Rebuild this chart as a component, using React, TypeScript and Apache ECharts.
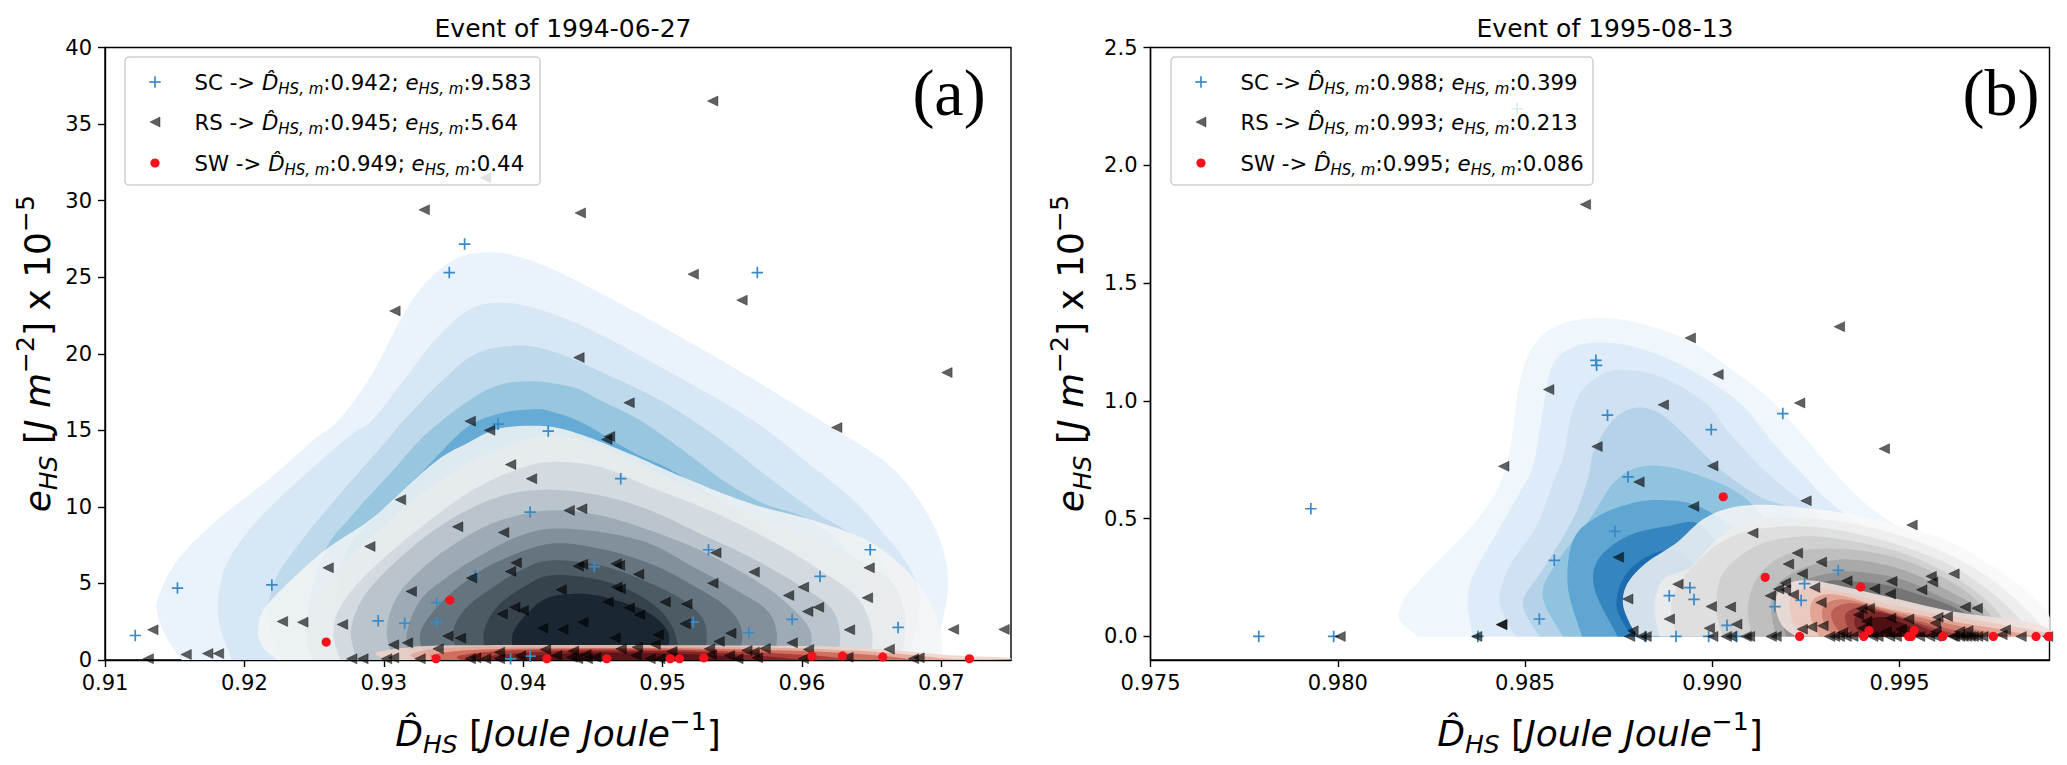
import React, { useEffect, useRef } from "react";
import * as echarts from "echarts";

type P = number[];

const titleA = "Event of 1994-06-27";
const titleB = "Event of 1995-08-13";
const ticksXA = [0.91, 0.92, 0.93, 0.94, 0.95, 0.96, 0.97];
const ticksXB = [0.975, 0.98, 0.985, 0.99, 0.995];
const ticksYA = [0, 5, 10, 15, 20, 25, 30, 35, 40];
const ticksYB = [0, 0.5, 1, 1.5, 2, 2.5];

const scA: P[] = [[.91217,1.6],[.9152,4.7],[.92197,4.9],[.9296,2.56],[.9315,2.4],[.9338,2.45],[.9338,3.74],[.93656,5.5],[.9405,9.66],[.9382,15.4],[.9418,14.95],[.9391,.08],[.9405,.25],[.947,11.84],[.9533,7.2],[.9451,6.1],[.9613,5.46],[.9649,7.2],[.9593,2.65],[.9669,2.13],[.9522,2.47],[.9562,1.78],[.9358,27.16],[.9347,25.3],[.9568,25.3]];

const rsA: P[] = [[.9536,36.5],[.9373,31.5],[.9329,29.4],[.9441,29.2],[.9522,25.2],[.9557,23.5],[.9308,22.8],[.944,19.75],[.9476,16.8],[.9704,18.77],[.9625,15.18],[.9362,15.6],[.9376,15],[.9462,14.6],[.946,14.4],[.9312,10.47],[.9391,12.76],[.9406,11.84],[.9433,9.77],[.9442,9.88],[.9353,8.7],[.9386,8.33],
[.91343,1.97],[.9131,.08],[.91582,.36],[.91737,.42],[.91814,.42],[.92273,2.52],[.92419,2.47],[.92601,6.02],[.92704,2.32],[.929,7.42],[.93197,4.48],[.9395,6.35],[.9391,5.78],[.9363,5.35],[.9385,3],[.9394,3.45],[.94,3.24],[.9414,2.08],[.9346,1.56],[.9355,1.43],[.9307,1],[.9317,1.12],[.9339,.73],[.9383,.51],[.9416,.69],[.9398,.27],
[.9277,.08],[.9285,.08],[.9302,.08],[.9307,.14],[.9326,.08],[.9362,.08],[.9366,.14],[.9373,.08],[.9383,.08],
[.95382,7],[.95657,5.74],[.96482,6.02],[.96011,4.76],[.95904,4.22],[.9647,4.06],[.96042,3.17],[.96119,3.45],[.95361,5.02],[.94395,6.13],[.94426,6.25],[.94667,6.29],[.94691,6.18],[.94828,5.6],[.94273,4.59],[.94672,4.76],[.94696,4.65],[.9461,3.8],[.94761,3.41],[.94835,2.95],[.95019,3.78],[.95174,3.65],[.95162,2.36],[.94428,2.47],[.94285,2],[.9466,1.45],[.94969,1.65],[.94947,1.02],[.95406,1.21],[.9549,1.75],[.9593,1.12],[.96341,1.97],[.97087,2],[.9745,2],
[.96626,.71],[.96047,.69],[.95736,.75],[.95605,.62],[.95657,.51],[.95337,.73],[.95067,.56],[.9482,.84],[.94703,.73],[.94361,.58],[.9481,.3],[.9548,.3],[.9535,.36],[.9424,.3],[.9445,.36],[.9435,.18],[.9452,.18],[.9491,.08],[.9498,.08],[.9554,.08],[.9568,.14],[.9601,.08],[.9633,.18],[.968,.08],[.9684,.14],[.9439,.08],[.9446,.08]];

const swA: P[] = [[.92587,1.17],[.93474,3.91],[.93375,.08],[.9417,.08],[.946,.08],[.95055,.08],[.95122,.08],[.95296,.14],[.96073,.25],[.96291,.27],[.9658,.2],[.97202,.08]];

const scB: P[] = [[.97789,0],[.97989,0],[.97928,.542],[.98374,0],[.98538,.074],[.98578,.323],[.9874,.446],[.98689,1.172],[.98691,1.151],[.9872,.939],[.98775,.677],[.98997,.878],[.99188,.946],[.98479,2.24],[.98885,.173],[.9894,.207],[.98951,.157],[.98903,0],[.9899,0],[.99065,0],[.99039,.047],[.99167,.127],[.99237,.153],[.99246,.224],[.99336,.28],[.98821,0]];

const rsB: P[] = [[.98661,1.834],[.99339,1.315],[.98941,1.267],[.99015,1.112],[.98563,1.048],[.99233,.991],[.98869,.983],[.99459,.797],[.98692,.806],[.98443,.722],[.99001,.724],[.98804,.656],[.9925,.576],[.9895,.552],[.99533,.473],[.99108,.439],[.99227,.354],[.99203,.307],[.99291,.316],[.9924,.266],[.99359,.236],[.99479,.234],[.99195,.227],[.99273,.208],[.99177,.201],[.99195,.198],[.99155,.173],[.99216,.177],[.99433,.202],[.99475,.18],[.99559,.198],[.99584,.255],[.99588,.231],[.99645,.266],[.9929,.144],[.99675,.125],[.99707,.12],[.99399,.118],[.99419,.12],[.9939,.092],[.99412,.064],[.99476,.078],[.99524,.074],[.99602,.081],[.99627,.085],[.99595,.057],[.98908,.222],[.98774,.159],[.98997,.127],[.99048,.125],[.98885,.074],[.99065,.052],[.98992,.035],[.98788,.024],[.99295,.045],[.99265,.04],[.9924,.031],[.99348,.017],[.99402,.035],[.99464,.021],[.99504,.031],[.99782,.028],[.99682,.025],[.9966,.021],[.99597,.021],[.99824,0],[.99773,.007],
[.98779,0],[.9881,0],[.98823,0],[.99001,0],[.99037,0],[.9905,0],[.9909,0],[.99099,0],[.99157,0],[.9917,0],[.99313,0],[.99326,0],[.99339,0],[.99357,0],[.99375,0],[.99428,0],[.99442,0],[.99473,0],[.99491,0],[.99553,0],[.9958,0],[.99597,0],[.99642,0],[.9966,0],[.99678,0],[.99696,0],[.99722,0],[.99647,0],[.99669,0],[.99688,0],[.99708,0],[.98006,0],[.98371,0],[.98438,.051],[.98749,.336],[.98437,.05],[.99895,0]];

const swB: P[] = [[.99029,.593],[.99141,.251],[.99396,.21],[.99233,0],[.99404,0],[.99418,.025],[.99524,0],[.99539,.025],[.99531,0],[.99615,0],[.9975,0],[.99864,0],[.99897,0]];

const blueColorsA = ["#eaf3fb", "#d8e7f5", "#bed8ec", "#98c6df", "#66abd5"];
const blueA: P[][] = [
[[.9155,0],[.91453,1.27],[.91382,2.78],[.91382,4.08],[.91518,6.5],[.91776,8.92],[.92164,11.73],[.92494,14.35],[.92673,15.65],[.92902,18.46],[.93146,22.65],[.93318,24.8],[.93527,26.24],[.93756,26.63],[.93979,26.3],[.94258,25.33],[.94811,22.71],[.95507,19.12],[.96131,15.65],[.96583,13.04],[.96827,10.62],[.96991,7.81],[.97049,5.2],[.97013,2.78],[.96941,0]],
[[.91912,0],[.91826,2.12],[.91812,4.08],[.91884,6.5],[.92113,9.31],[.92493,12.58],[.9278,14.8],[.92917,15.65],[.93143,18.27],[.93387,21.1],[.93631,22.97],[.93867,23.32],[.94117,22.89],[.94465,21.65],[.94986,19.14],[.95647,15.65],[.96109,12.39],[.96396,10.23],[.96583,8.27],[.96726,6.7],[.96834,4.74],[.96834,2.78],[.96762,0]],
[[.92257,0],[.92171,2.58],[.92171,3.69],[.92243,5.65],[.92451,8.27],[.92709,11.08],[.93024,14.35],[.93143,15.65],[.93422,18.27],[.93665,20.01],[.93961,20.54],[.94222,20.12],[.94534,18.92],[.94983,16.96],[.95392,14.54],[.95722,12.19],[.9608,9.77],[.96346,8.27],[.96547,6.7],[.96654,4.74],[.96683,2.78],[.96611,0]],
[[.92544,0],[.92458,3.24],[.9258,7.16],[.92759,9.31],[.93067,12.39],[.93333,15],[.93734,17.61],[.94029,18.2],[.94358,17.81],[.94552,16.96],[.94839,15.65],[.95148,13.69],[.95435,11.73],[.95722,10.23],[.96059,9.12],[.96346,6.83],[.96475,3.24],[.96418,0]],
[[.92759,0],[.92687,3.24],[.92723,6.83],[.92923,9.25],[.93118,10.75],[.93354,13.04],[.93598,15.2],[.93835,16.11],[.94072,16.37],[.94194,16.24],[.94431,15.46],[.94789,13.56],[.95126,12.06],[.957,8.46],[.95987,4.54],[.95916,0]],
];

const greyColorsA = ["#f4f5f5", "#e7ebed", "#cfd8dd", "#b4c0c9", "#98a6b1", "#7c8a95", "#616f7a", "#48565f", "#323f49", "#15232e"];
const greyA: P[][] = [
[[.92235,0],[.92135,.82],[.92099,1.93],[.92171,3.69],[.92558,7.03],[.92923,9.31],[.93354,12.84],[.93598,14.15],[.93835,15.13],[.94172,15.26],[.94431,14.67],[.94789,13.37],[.95148,11.93],[.95628,10.23],[.9608,9.12],[.96467,7.81],[.96726,6.05],[.96898,4.08],[.96991,2.12],[.97006,0]],
[[.92496,0],[.92443,1.27],[.9246,3.02],[.92591,5.2],[.92879,7.81],[.93237,10.64],[.93596,12.82],[.93907,14.02],[.94194,14.67],[.94553,14.02],[.94911,12.49],[.9539,10.53],[.95868,8.79],[.96227,7.3],[.96609,5.4],[.96729,3.45],[.96741,1.71],[.96705,0]],
[[.92687,0],[.92639,1.71],[.92687,3.45],[.92879,5.63],[.93237,8.46],[.93596,10.86],[.93907,12.28],[.94194,12.93],[.94553,12.6],[.94911,11.3],[.9539,9.56],[.9582,7.59],[.96131,5.85],[.96394,4.11],[.96502,1.93],[.9649,0]],
[[.92807,0],[.92764,1.93],[.92855,4.11],[.9307,6.29],[.93357,8.46],[.93644,9.99],[.93907,10.86],[.94194,11.12],[.94553,10.75],[.94911,9.77],[.9527,8.25],[.95629,6.72],[.95964,4.98],[.96203,3.45],[.96274,1.71],[.9625,0]],
[[.93069,0],[.93022,1.93],[.93094,4.11],[.93286,6.07],[.93549,7.81],[.93835,9.12],[.94194,9.77],[.94553,9.44],[.94911,8.46],[.9527,7.16],[.95629,5.41],[.95868,3.89],[.96059,1.93],[.96047,0]],
[[.93189,0],[.93165,1.71],[.93261,3.89],[.93453,5.41],[.93716,6.94],[.93955,8.03],[.94194,8.57],[.94553,8.36],[.94911,7.59],[.95222,6.07],[.95533,4.54],[.95749,3.24],[.9582,1.71],[.95796,0]],
[[.93297,0],[.93261,1.71],[.93381,3.45],[.93596,5.2],[.93835,6.5],[.94194,7.59],[.94553,7.27],[.94911,6.29],[.95198,4.98],[.95461,3.45],[.95569,1.93],[.95545,0]],
[[.93536,0],[.935,1.93],[.93596,3.45],[.93787,4.76],[.93979,5.85],[.94194,6.5],[.94553,6.18],[.94864,5.2],[.95151,3.89],[.95306,2.36],[.95306,0]],
[[.93751,0],[.93715,1.71],[.93811,3.45],[.94003,4.76],[.94194,5.52],[.94505,5.31],[.94792,4.43],[.95007,3.02],[.95103,1.27],[.95079,0]],
[[.93942,0],[.93925,1.71],[.9405,3.24],[.94194,4.11],[.94433,4.32],[.94672,3.89],[.94911,3.02],[.95043,1.71],[.95019,0]],
];

const redColorsA = ["#efd3c9", "#e3a595", "#cc6656", "#a93a33", "#7f2124", "#571419"];
const redA: P[][] = [
[[.9297,.2],[.9295,.5],[.9315,.8],[.9345,.95],[.945,.98],[.955,.95],[.961,.9],[.965,.75],[.97,.35],[.9735,0],[.9302,0]],
[[.9325,0],[.932,.4],[.9345,.8],[.94,.88],[.95,.88],[.958,.8],[.965,.55],[.97,.12],[.971,0]],
[[.934,0],[.9335,.35],[.937,.68],[.945,.78],[.953,.74],[.961,.55],[.966,.25],[.968,0]],
[[.9355,0],[.9355,.3],[.939,.62],[.946,.7],[.953,.62],[.96,.35],[.964,0]],
[[.9375,0],[.938,.3],[.942,.56],[.948,.6],[.953,.5],[.958,.2],[.96,0]],
[[.9395,0],[.94,.22],[.944,.45],[.949,.46],[.954,.28],[.956,0]],
];

const blueColorsB = ["#eff6fc", "#deebf8", "#cfe1f2", "#b4d3e9", "#90c3df", "#5fa6d3", "#3585bf", "#1c6cb0"];
const blueB: P[][] = [
[[.98214,0],[.9817,.057],[.98163,.099],[.98182,.17],[.98245,.283],[.98325,.411],[.98405,.566],[.9845,.722],[.9847,.906],[.98485,1.076],[.98521,1.232],[.98593,1.324],[.98705,1.352],[.98817,1.324],[.9894,1.253],[.99052,1.133],[.99155,1.005],[.99236,.864],[.99328,.694],[.9943,.538],[.9965,.3],[.9985,.05],[.9985,0]],
[[.9836,0],[.98347,.142],[.9836,.255],[.98414,.411],[.98485,.609],[.98521,.722],[.98545,.935],[.98572,1.147],[.98634,1.232],[.98725,1.246],[.98817,1.218],[.9894,1.133],[.99073,.991],[.99155,.835],[.99246,.68],[.99328,.552],[.9955,.3],[.9975,.05],[.9975,0]],
[[.98476,0],[.98432,.142],[.98458,.297],[.9853,.467],[.98578,.666],[.98603,.765],[.98623,.935],[.98654,1.048],[.98715,1.119],[.98777,1.13],[.98869,1.097],[.98981,.991],[.99052,.85],[.99155,.68],[.99257,.552],[.9945,.3],[.9965,.05],[.9965,0]],
[[.98538,0],[.98494,.142],[.98547,.283],[.98627,.496],[.98667,.666],[.98685,.793],[.98736,.92],[.98792,.97],[.98858,.949],[.9893,.85],[.99022,.708],[.99124,.595],[.99226,.524],[.9935,.3],[.9955,.05],[.9955,0]],
[[.98601,0],[.98547,.17],[.98583,.311],[.98672,.496],[.98736,.651],[.98797,.715],[.98869,.722],[.98971,.68],[.99093,.58],[.9925,.3],[.9945,.05],[.9945,0]],
[[.98652,0],[.98614,.212],[.98629,.411],[.98695,.51],[.98786,.566],[.98878,.578],[.98982,.538],[.9915,.35],[.993,.05],[.993,0]],
[[.98747,0],[.98686,.198],[.98695,.326],[.98773,.425],[.98877,.467],[.98969,.474],[.9905,.3],[.9915,.05],[.9915,0]],
[[.98785,0],[.98745,.12],[.9876,.24],[.98812,.326],[.98891,.368],[.9895,.3],[.9903,.05],[.9903,0]],
];

const greyColorsB = ["#f8f8f8", "#ececec", "#dddddd", "#cdcdcd", "#bbbbbb", "#a5a5a5", "#8e8e8e", "#707070"];
const greyB: P[][] = [
[[.98801,0],[.98779,.057],[.98761,.142],[.98774,.227],[.98823,.312],[.98903,.396],[.98974,.496],[.99046,.545],[.99135,.559],[.9925,.545],[.99375,.517],[.99508,.467],[.99642,.396],[.99775,.269],[.99864,.156],[.999,.085],[.999,0]],
[[.98859,0],[.98845,.127],[.98868,.241],[.98939,.29],[.98992,.382],[.99046,.453],[.99135,.503],[.9925,.503],[.99375,.479],[.99508,.425],[.99642,.34],[.99758,.227],[.99847,.099],[.99895,.014],[.99895,0]],
[[.98903,0],[.9889,.127],[.98912,.227],[.98957,.312],[.99019,.396],[.99108,.453],[.9925,.467],[.99375,.439],[.99508,.382],[.99642,.297],[.99758,.17],[.99829,.057],[.99855,0]],
[[.99028,0],[.9901,.127],[.99028,.269],[.99099,.368],[.9917,.411],[.99268,.425],[.99375,.404],[.99508,.354],[.99642,.255],[.9974,.142],[.99811,0]],
[[.99104,0],[.99095,.127],[.99117,.241],[.9917,.326],[.9925,.368],[.99375,.368],[.99508,.326],[.99642,.227],[.99722,.127],[.99784,0]],
[[.9917,0],[.99157,.113],[.9917,.212],[.99215,.269],[.99286,.312],[.99375,.326],[.99508,.283],[.99642,.184],[.99713,.113],[.99766,0]],
[[.99197,0],[.99179,.127],[.99215,.212],[.99277,.255],[.99375,.276],[.99508,.241],[.99597,.177],[.99695,.099],[.9974,0]],
[[.99224,0],[.99206,.113],[.99241,.184],[.99304,.234],[.99375,.234],[.99464,.219],[.99553,.177],[.99642,.127],[.99695,.071],[.99713,0]],
];

const redColorsB = ["#efe0dc", "#ecc8bc", "#e0a090", "#cf7d6e", "#b85a50", "#983d3a", "#742326", "#4a0e12"];
const redB: P[][] = [
[[.99224,0],[.99188,.042],[.9917,.113],[.99172,.177],[.99206,.227],[.99259,.238],[.9933,.219],[.99464,.17],[.99642,.106],[.9982,.068],[.99895,.035],[.99895,0]],
[[.9925,0],[.99219,.057],[.99206,.142],[.99224,.191],[.99277,.205],[.99357,.184],[.99482,.134],[.99642,.085],[.99775,.05],[.99895,.014],[.99895,0]],
[[.99286,0],[.99264,.071],[.99264,.142],[.99295,.177],[.99357,.17],[.99464,.12],[.99642,.064],[.99775,.028],[.99864,0]],
[[.99321,0],[.99295,.071],[.99297,.127],[.9933,.156],[.99384,.149],[.99482,.106],[.99642,.05],[.99731,.021],[.99802,0]],
[[.99348,0],[.99321,.064],[.99321,.113],[.99357,.139],[.99402,.134],[.99491,.092],[.99624,.035],[.99731,0]],
[[.99375,0],[.99357,.057],[.99357,.099],[.99393,.125],[.99437,.113],[.99508,.078],[.99606,.028],[.99677,0]],
[[.99402,0],[.99379,.05],[.99388,.092],[.99428,.106],[.99491,.085],[.9958,.028],[.99624,0]],
[[.99428,0],[.99411,.05],[.99428,.078],[.99473,.078],[.99535,.035],[.9958,0]],
];

const legendSC = ["0.942", "9.583"];
const legendRS = ["0.945", "5.64"];
const legendSW = ["0.949", "0.44"];
const legendSCb = ["0.988", "0.399"];
const legendRSb = ["0.993", "0.213"];
const legendSWb = ["0.995", "0.086"];

const FONT = "DejaVu Sans";
const PLUS = "path://M4.25,0H5.75V4.25H10V5.75H5.75V10H4.25V5.75H0V4.25H4.25Z";
const TRI = "path://M0,5L10,0L10,10Z";
const BLUE = "#3b8ac6";
const RED = "#f5121c";
const DARK = "rgba(0,0,0,0.62)";

function smoothOpen(pts: number[][], baseY: number): number[][] {
  const out: number[][] = [];
  const n = pts.length;
  for (let i = 0; i < n - 1; i++) {
    const p0 = pts[Math.max(0, i - 1)], p1 = pts[i], p2 = pts[i + 1], p3 = pts[Math.min(n - 1, i + 2)];
    for (let k = 0; k < 10; k++) {
      const t = k / 10, t2 = t * t, t3 = t2 * t;
      const f = (a: number, b: number, c: number, d: number) =>
        0.5 * (2 * b + (c - a) * t + (2 * a - 5 * b + 4 * c - d) * t2 + (3 * b - a - 3 * c + d) * t3);
      out.push([f(p0[0], p1[0], p2[0], p3[0]), Math.min(baseY, f(p0[1], p1[1], p2[1], p3[1]))]);
    }
  }
  out.push(pts[n - 1]);
  return out;
}

function contourSeries(levels: P[][], colors: string[], axis: number, opacity: number, z: number) {
  return {
    type: "custom",
    xAxisIndex: axis,
    yAxisIndex: axis,
    z,
    clip: true,
    silent: true,
    data: levels.map((_, i) => [levels[i][0][0], levels[i][0][1], i]),
    encode: { x: 0, y: 1 },
    renderItem: (params: any, api: any) => {
      const idx = params.dataIndex as number;
      const baseY = api.coord([levels[idx][0][0], 0])[1];
      const pts = levels[idx].map((p) => api.coord(p));
      return {
        type: "polygon",
        shape: { points: smoothOpen(pts, baseY) },
        style: { fill: colors[idx], opacity, stroke: "none" },
      };
    },
  };
}

function scatter(data: P[], symbol: string, size: number | number[], color: string, axis: number, z: number, border = 0) {
  return {
    type: "scatter",
    xAxisIndex: axis,
    yAxisIndex: axis,
    symbol,
    symbolSize: size,
    data,
    z,
    clip: true,
    silent: true,
    itemStyle: { color, opacity: 1, borderColor: border ? "rgba(0,0,0,0.45)" : undefined, borderWidth: border },
  };
}

const axisBase = {
  axisLine: { show: true, onZero: false, lineStyle: { color: "#000", width: 1.4 } },
  axisTick: { show: true, length: 7, lineStyle: { color: "#000", width: 1.4 } },
  splitLine: { show: false },
};

const nameRich = {
  i: { fontFamily: FONT, fontStyle: "italic", fontSize: 36, color: "#000" },
  n: { fontFamily: FONT, fontSize: 36, color: "#000" },
  s: { fontFamily: FONT, fontStyle: "italic", fontSize: 25, color: "#000", verticalAlign: "bottom", lineHeight: 48 },
  p: { fontFamily: FONT, fontSize: 25, color: "#000", verticalAlign: "top", lineHeight: 48 },
};

function xAxis(grid: number, min: number, max: number, ticks: number[], digits: number) {
  return {
    ...axisBase,
    type: "value",
    gridIndex: grid,
    min,
    max,
    axisTick: { ...axisBase.axisTick, customValues: ticks },
    axisLabel: {
      customValues: ticks,
      margin: 12,
      color: "#000",
      fontFamily: FONT,
      fontSize: 21,
      formatter: (v: number) => v.toFixed(digits),
    },
    name: "{i|D\u0302}{s|HS}{n|\u00a0[}{i|Joule Joule}{p|\u22121}{n|]}",
    nameLocation: "middle",
    nameGap: 49,
    nameTextStyle: { fontFamily: FONT, color: "#000", rich: nameRich },
  };
}

function yAxis(grid: number, min: number, max: number, ticks: number[], digits: number, gap: number) {
  return {
    ...axisBase,
    type: "value",
    gridIndex: grid,
    min,
    max,
    axisTick: { ...axisBase.axisTick, customValues: ticks },
    axisLabel: {
      customValues: ticks,
      margin: 13,
      color: "#000",
      fontFamily: FONT,
      fontSize: 21,
      formatter: (v: number) => v.toFixed(digits),
    },
    name: "{i|e}{s|HS}{n|\u00a0[}{i|J m}{p|\u22122}{n|] x 10}{p|\u22125}",
    nameLocation: "middle",
    nameGap: gap,
    nameTextStyle: { fontFamily: FONT, color: "#000", rich: nameRich },
  };
}

function legendText(label: string, v: string[], x: number, y: number) {
  return {
    type: "text",
    x,
    y,
    z: 102,
    style: {
      text: `{n|${label} -> }{i|D\u0302}{s|HS, m}{n|:${v[0]}; }{i|e}{s|HS, m}{n|:${v[1]}}`,
      fontFamily: FONT,
      fontSize: 21.3,
      fill: "#000",
      verticalAlign: "middle",
      rich: {
        n: { fontFamily: FONT, fontSize: 21.3, fill: "#000" },
        i: { fontFamily: FONT, fontSize: 21.3, fontStyle: "italic", fill: "#000" },
        s: { fontFamily: FONT, fontSize: 15, fontStyle: "italic", fill: "#000", verticalAlign: "bottom", lineHeight: 29 },
      },
    },
  };
}

function legend(x0: number, width: number, rows: string[][], labels: string[]) {
  const mx = x0 + 30;
  const tx = x0 + 69.5;
  const ys = [82, 122, 163];
  return [
    { type: "rect", x: x0, y: 57, z: 100, shape: { width, height: 128, r: 4 }, style: { fill: "rgba(255,255,255,0.82)", stroke: "#cfcfcf", lineWidth: 1.5 } },
    { type: "rect", x: mx - 5.75, y: ys[0] - 0.85, z: 101, shape: { width: 11.5, height: 1.7 }, style: { fill: BLUE } },
    { type: "rect", x: mx - 0.85, y: ys[0] - 5.75, z: 101, shape: { width: 1.7, height: 11.5 }, style: { fill: BLUE } },
    { type: "polygon", z: 101, shape: { points: [[mx - 5, ys[1]], [mx + 5, ys[1] - 5], [mx + 5, ys[1] + 5]] }, style: { fill: DARK, stroke: "rgba(0,0,0,0.45)", lineWidth: 0.8 } },
    { type: "circle", z: 101, shape: { cx: mx, cy: ys[2], r: 4.6 }, style: { fill: RED } },
    legendText(labels[0], rows[0], tx, ys[0]),
    legendText(labels[1], rows[1], tx, ys[1]),
    legendText(labels[2], rows[2], tx, ys[2]),
  ];
}

export default function App() {
  const ref = useRef<HTMLDivElement>(null);
  useEffect(() => {
    document.body.style.margin = "0";
    const chart = echarts.init(ref.current!, undefined, { renderer: "svg", width: 2067, height: 765 });
    chart.setOption({
      animation: false,
      backgroundColor: "#fff",
      title: [
        { text: titleA, left: 558, top: 11, textAlign: "center", textStyle: { fontFamily: FONT, fontWeight: "normal", fontSize: 25, color: "#000" } },
        { text: titleB, left: 1600, top: 11, textAlign: "center", textStyle: { fontFamily: FONT, fontWeight: "normal", fontSize: 25, color: "#000" } },
      ],
      grid: [
        { left: 105, top: 47.5, width: 906, height: 612.5, show: true, borderColor: "#000", borderWidth: 1.4, backgroundColor: "#fff" },
        { left: 1150.5, top: 47.5, width: 899, height: 612.5, show: true, borderColor: "#000", borderWidth: 1.4, backgroundColor: "#fff" },
      ],
      xAxis: [xAxis(0, 0.91, 0.975, ticksXA, 2), xAxis(1, 0.975, 0.999, ticksXB, 3)],
      yAxis: [yAxis(0, 0, 40, ticksYA, 0, 42), yAxis(1, -0.1, 2.5, ticksYB, 1, 56)],
      series: [
        contourSeries(blueA, blueColorsA, 0, 1, 2),
        contourSeries(greyA, greyColorsA, 0, 0.84, 3),
        contourSeries(redA, redColorsA, 0, 0.88, 4),
        contourSeries(blueB, blueColorsB, 1, 1, 2),
        contourSeries(greyB, greyColorsB, 1, 0.84, 3),
        contourSeries(redB, redColorsB, 1, 0.9, 4),
        scatter(scA, PLUS, 11.5, BLUE, 0, 5),
        scatter(rsA, TRI, [10.5, 10], DARK, 0, 6, 0.8),
        scatter(swA, "circle", 9.2, RED, 0, 7),
        scatter(scB, PLUS, 11.5, BLUE, 1, 5),
        scatter(rsB, TRI, [10.5, 10], DARK, 1, 6, 0.8),
        scatter(swB, "circle", 9.2, RED, 1, 7),
      ],
      graphic: [
        ...legend(125, 415, [legendSC, legendRS, legendSW], ["SC", "RS", "SW"]),
        ...legend(1171, 422, [legendSCb, legendRSb, legendSWb], ["SC", "RS", "SW"]),
        { type: "text", x: 949, y: 92, z: 103, style: { text: "(a)", fontFamily: "Liberation Serif", fontSize: 66, fill: "#000", align: "center", verticalAlign: "middle" } },
        { type: "text", x: 2001, y: 92, z: 103, style: { text: "(b)", fontFamily: "Liberation Serif", fontSize: 66, fill: "#000", align: "center", verticalAlign: "middle" } },
      ],
    });
    return () => chart.dispose();
  }, []);
  return <div ref={ref} style={{ position: "absolute", left: 0, top: 0, width: 2067, height: 765 }} />;
}
